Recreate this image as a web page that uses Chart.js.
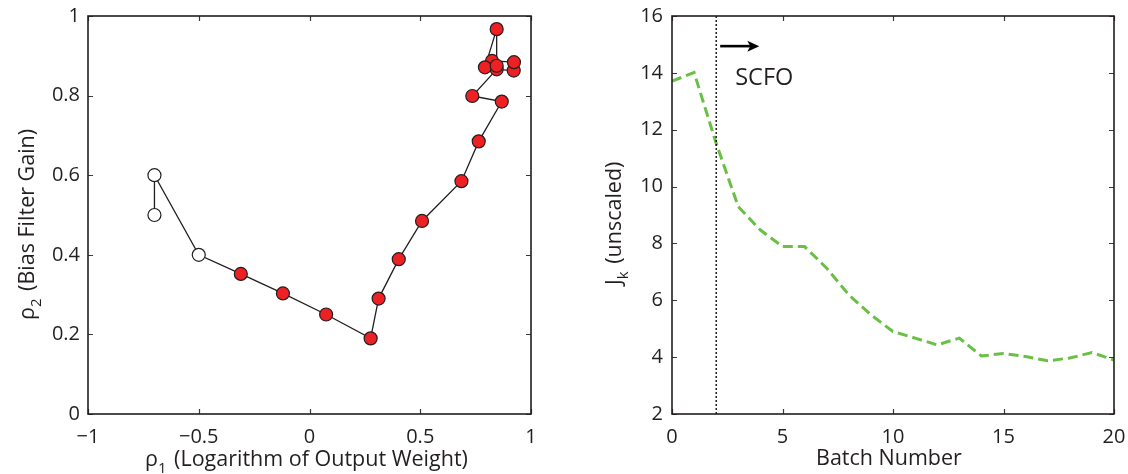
<!DOCTYPE html>
<html>
<head>
<meta charset="utf-8">
<script src="https://cdn.jsdelivr.net/npm/chart.js@4.4.1/dist/chart.umd.min.js"></script>
<style>
  html, body { margin: 0; padding: 0; background: #fff; }
  #wrap { position: relative; width: 1128px; height: 474px; overflow: hidden; }
  #left { position: absolute; left: 0; top: 0; }
  #right { position: absolute; left: 560px; top: 0; }
</style>
</head>
<body>
<div id="wrap">
  <canvas id="left" width="560" height="474"></canvas>
  <canvas id="right" width="568" height="474"></canvas>
</div>
<script>
// ---- left panel: tuning trajectory (rho1, rho2) ----
var rho1 = [-0.70, -0.70, -0.50, -0.31, -0.12, 0.075, 0.276, 0.312, 0.403, 0.508, 0.686,
            0.764, 0.868, 0.735, 0.845, 0.922, 0.923, 0.824, 0.792, 0.845, 0.845];
var rho2 = [0.50, 0.60, 0.40, 0.352, 0.303, 0.250, 0.190, 0.290, 0.389, 0.485, 0.585,
            0.685, 0.785, 0.799, 0.866, 0.863, 0.884, 0.887, 0.871, 0.967, 0.875];
var hollowCount = 3; // first points are open circles (before SCFO)
var xTicksL = [-1, -0.5, 0, 0.5, 1];
var xLabelsL = ['\u22121', '\u22120.5', '0', '0.5', '1'];
var yTicksL = [0, 0.2, 0.4, 0.6, 0.8, 1];
var yLabelsL = ['0', '0.2', '0.4', '0.6', '0.8', '1'];

// ---- right panel: cost per batch ----
var batch = [0, 1, 2, 3, 4, 5, 6, 7, 8, 9, 10, 11, 12, 13, 14, 15, 16, 17, 18, 19, 20];
var jk = [13.71, 14.01, 11.52, 9.29, 8.47, 7.89, 7.89, 7.13, 6.19, 5.49, 4.90,
          4.67, 4.43, 4.67, 4.04, 4.13, 4.02, 3.87, 3.97, 4.16, 3.90];
var scfoStart = 2;
var arrowX = [2.18, 3.95];
var arrowY = 14.94;
var scfoLabelPos = [2.86, 13.81];
var xTicksR = [0, 5, 10, 15, 20];
var yTicksR = [2, 4, 6, 8, 10, 12, 14, 16];

var FONT = '"Open Sans", "Noto Sans", sans-serif';
var INK = '#231f20';
var TICKSIZE = 20;
var TITLESIZE = 21.5;

function fixTicks(values) {
  return function (scale) { scale.ticks = values.map(function (v) { return { value: v }; }); };
}

// box + inward tick marks on all four sides (MATLAB style)
var boxPlugin = {
  id: 'box',
  afterDraw: function (chart) {
    var c = chart.ctx, a = chart.chartArea, sx = chart.scales.x, sy = chart.scales.y, L = 5;
    c.save();
    c.strokeStyle = '#3a3a3a';
    c.lineWidth = 1.2;
    c.beginPath();
    sx.ticks.forEach(function (t) {
      var px = Math.round(sx.getPixelForValue(t.value)) + 0.5;
      c.moveTo(px, a.bottom); c.lineTo(px, a.bottom - L);
      c.moveTo(px, a.top); c.lineTo(px, a.top + L);
    });
    sy.ticks.forEach(function (t) {
      var py = Math.round(sy.getPixelForValue(t.value)) + 0.5;
      c.moveTo(a.left, py); c.lineTo(a.left + L, py);
      c.moveTo(a.right, py); c.lineTo(a.right - L, py);
    });
    c.stroke();
    c.lineWidth = 1.6;
    c.strokeStyle = INK;
    c.strokeRect(a.left, a.top, a.right - a.left, a.bottom - a.top);
    c.restore();
  }
};

// text with subscripts, parts = [[text, isSub], ...]
function drawParts(c, parts, size) {
  var x = 0;
  parts.forEach(function (p) {
    var s = p[1] ? Math.round(size * 0.72) : size;
    c.font = s + 'px ' + FONT;
    c.fillText(p[0], x, p[1] ? size * 0.32 : 0);
    x += c.measureText(p[0]).width + (p[1] ? 2 : 0);
  });
}

function titlePlugin(xParts, xPos, yParts, yPos) {
  return {
    id: 'titles',
    afterDraw: function (chart) {
      var c = chart.ctx;
      c.save();
      c.fillStyle = INK;
      c.textBaseline = 'alphabetic';
      c.textAlign = 'left';
      c.translate(xPos[0], xPos[1]);
      drawParts(c, xParts, TITLESIZE);
      c.restore();
      c.save();
      c.fillStyle = INK;
      c.textBaseline = 'alphabetic';
      c.textAlign = 'left';
      c.translate(yPos[0], yPos[1]);
      c.rotate(-Math.PI / 2);
      drawParts(c, yParts, TITLESIZE);
      c.restore();
    }
  };
}

var scfoPlugin = {
  id: 'scfo',
  afterDatasetsDraw: function (chart) {
    var c = chart.ctx, sx = chart.scales.x, sy = chart.scales.y;
    var x0 = sx.getPixelForValue(arrowX[0]), x1 = sx.getPixelForValue(arrowX[1]);
    var y = sy.getPixelForValue(arrowY);
    c.save();
    c.strokeStyle = '#000';
    c.fillStyle = '#000';
    c.lineWidth = 2.6;
    c.beginPath(); c.moveTo(x0, y); c.lineTo(x1 - 8, y); c.stroke();
    c.beginPath(); c.moveTo(x1, y); c.lineTo(x1 - 12, y - 5.5); c.lineTo(x1 - 9, y); c.lineTo(x1 - 12, y + 5.5); c.closePath(); c.fill();
    c.font = '23.5px ' + FONT;
    c.textBaseline = 'middle';
    c.textAlign = 'left';
    c.fillStyle = INK;
    c.fillText('SCFO', sx.getPixelForValue(scfoLabelPos[0]), sy.getPixelForValue(scfoLabelPos[1]));
    c.restore();
  }
};

function axisOpts(min, max, ticks, labels, fitKey, fitVal, pad) {
  return {
    type: 'linear', min: min, max: max,
    grid: { display: false, drawTicks: false },
    border: { display: false },
    afterBuildTicks: fixTicks(ticks),
    afterFit: function (s) {
      s[fitKey] = fitVal;
      s.paddingLeft = 0; s.paddingRight = 0; s.paddingTop = 0; s.paddingBottom = 0;
    },
    ticks: {
      color: INK, padding: pad, maxRotation: 0, autoSkip: false,
      font: { family: FONT, size: TICKSIZE },
      callback: function (v, i) { return labels ? labels[i] : String(v); }
    }
  };
}

Chart.defaults.font.family = FONT;

// ---- left chart ----
var trajectory = rho1.map(function (v, i) { return { x: v, y: rho2[i] }; });
new Chart(document.getElementById('left'), {
  type: 'scatter',
  data: {
    datasets: [{
      data: trajectory,
      showLine: true,
      borderColor: INK,
      borderWidth: 1.3,
      pointRadius: 6.5,
      pointBorderWidth: 1.2,
      pointBorderColor: INK,
      pointBackgroundColor: rho1.map(function (v, i) { return i < hollowCount ? '#ffffff' : '#ed2024'; })
    }]
  },
  options: {
    responsive: false, animation: false, devicePixelRatio: 1,
    layout: { padding: { top: 16, right: 29, left: 0, bottom: 0 } },
    plugins: { legend: { display: false }, tooltip: { enabled: false } },
    scales: {
      x: axisOpts(-1, 1, xTicksL, xLabelsL, 'height', 60, 11),
      y: axisOpts(0, 1, yTicksL, yLabelsL, 'width', 88, 8)
    }
  },
  plugins: [boxPlugin, titlePlugin(
    [['\u03c1', false], ['1', true], [' (Logarithm of Output Weight)', false]], [145, 466],
    [['\u03c1', false], ['2', true], [' (Bias Filter Gain)', false]], [34, 320])]
});

// ---- right chart ----
var cost = batch.map(function (b, i) { return { x: b, y: jk[i] }; });
var scfoLine = [{ x: scfoStart, y: yTicksR[0] }, { x: scfoStart, y: yTicksR[yTicksR.length - 1] }];
new Chart(document.getElementById('right'), {
  type: 'line',
  data: {
    datasets: [{
      data: scfoLine,
      borderColor: '#000',
      borderWidth: 1.3,
      borderDash: [2, 2],
      pointRadius: 0
    }, {
      data: cost,
      borderColor: '#6abf45',
      borderWidth: 3,
      borderDash: [10, 5],
      pointRadius: 0,
      tension: 0
    }]
  },
  options: {
    responsive: false, animation: false, devicePixelRatio: 1,
    layout: { padding: { top: 16, right: 14, left: 0, bottom: 0 } },
    plugins: { legend: { display: false }, tooltip: { enabled: false } },
    scales: {
      x: axisOpts(0, 20, xTicksR, null, 'height', 60, 11),
      y: axisOpts(2, 16, yTicksR, null, 'width', 112, 9)
    }
  },
  plugins: [boxPlugin, scfoPlugin, titlePlugin(
    [['Batch Number', false]], [256, 465],
    [['J', false], ['k', true], [' (unscaled)', false]], [61, 285])]
});
</script>
</body>
</html>
